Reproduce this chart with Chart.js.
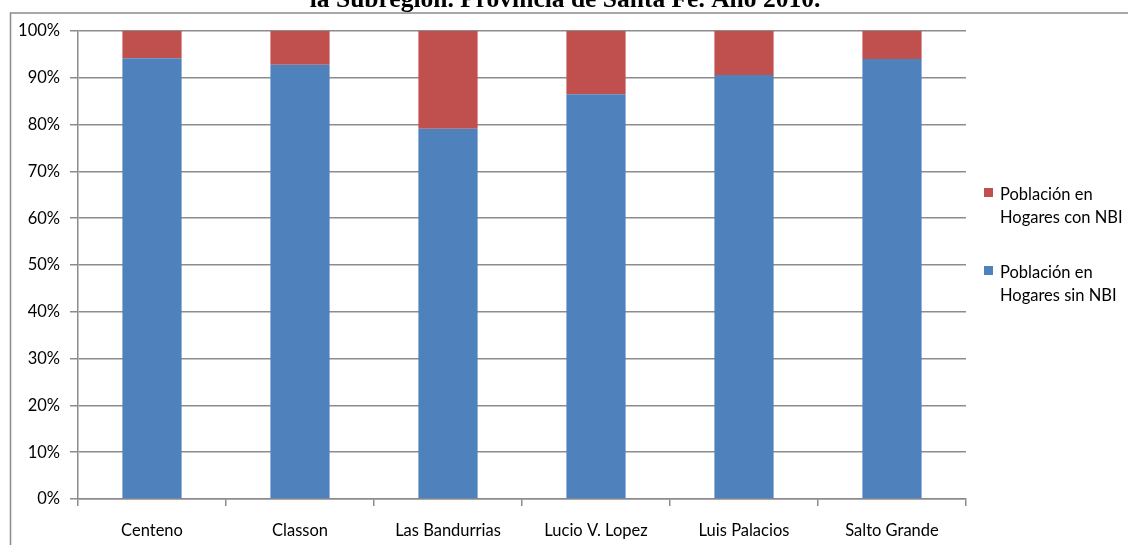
<!DOCTYPE html>
<html>
<head>
<meta charset="utf-8">
<script src="https://cdn.jsdelivr.net/npm/chart.js@4"></script>
<style>
html,body{margin:0;padding:0;background:#fff;}
#wrap{width:1128px;height:545px;position:relative;}
</style>
</head>
<body>
<div id="wrap"><canvas id="c" width="1128" height="545"></canvas></div>
<script>
const categories = ["Centeno", "Classon", "Las Bandurrias", "Lucio V. Lopez", "Luis Palacios", "Salto Grande"];
const sinNBI = [94.2, 92.8, 79.1, 86.5, 90.6, 94.0];
const conNBI = [5.8, 7.2, 20.9, 13.5, 9.4, 6.0];
const seriesNames = [["Población en", "Hogares sin NBI"], ["Población en", "Hogares con NBI"]];
const titleText = "la Subregión. Provincia de Santa Fe. Año 2010.";

const BLUE = "#4F81BD", RED = "#C0504D", GRID = "#8C8C8C";
const FONT = "Lato";
const FS = 16.5;

const framePlugin = {
  id: "frame",
  afterDraw(chart) {
    const ctx = chart.ctx;
    ctx.save();
    ctx.strokeStyle = "#8C8C8C";
    ctx.lineWidth = 1.5;
    ctx.beginPath();
    ctx.moveTo(10.5, 545);
    ctx.lineTo(10.5, 13);
    ctx.lineTo(1128, 13);
    ctx.stroke();
    ctx.fillStyle = "#000";
    ctx.font = "bold 25.5px 'Liberation Serif', 'Times New Roman', serif";
    ctx.textAlign = "center";
    ctx.textBaseline = "alphabetic";
    ctx.fillText(titleText, 565, 7);
    const items = [
      {color: RED, lines: seriesNames[1], y: 188},
      {color: BLUE, lines: seriesNames[0], y: 266}
    ];
    ctx.font = FS + "px " + FONT;
    ctx.textAlign = "left";
    ctx.textBaseline = "middle";
    items.forEach(it => {
      ctx.fillStyle = it.color;
      ctx.fillRect(984, it.y, 9, 9);
      ctx.fillStyle = "#000";
      ctx.fillText(it.lines[0], 1000, it.y + 7);
      ctx.fillText(it.lines[1], 1000, it.y + 30);
    });
    ctx.restore();
  }
};

new Chart(document.getElementById("c"), {
  type: "bar",
  data: {
    labels: categories,
    datasets: [
      {label: seriesNames[0].join(" "), data: sinNBI, backgroundColor: BLUE, borderWidth: 0},
      {label: seriesNames[1].join(" "), data: conNBI, backgroundColor: RED, borderWidth: 0}
    ]
  },
  options: {
    responsive: false,
    animation: false,
    devicePixelRatio: 1,
    layout: {padding: {left: 0, top: 31, right: 162, bottom: 0}},
    datasets: {bar: {barPercentage: 1, categoryPercentage: 0.4}},
    plugins: {legend: {display: false}, tooltip: {enabled: false}, title: {display: false}},
    scales: {
      x: {
        stacked: true,
        offset: true,
        afterFit(s) { s.height = 46; },
        grid: {offset: true, drawOnChartArea: false, drawTicks: true, tickLength: 7, color: GRID, lineWidth: 1.5},
        border: {display: true, color: GRID, width: 1.5},
        ticks: {color: "#000", font: {family: FONT, size: FS}, padding: 15}
      },
      y: {
        stacked: true,
        min: 0, max: 100,
        afterFit(s) { s.width = 78; },
        grid: {color: GRID, lineWidth: 1.5, tickLength: 8},
        border: {display: true, color: GRID, width: 1.5},
        ticks: {stepSize: 10, color: "#000", font: {family: FONT, size: FS}, padding: 10, callback: v => v + "%"}
      }
    }
  },
  plugins: [framePlugin]
});
</script>
</body>
</html>
